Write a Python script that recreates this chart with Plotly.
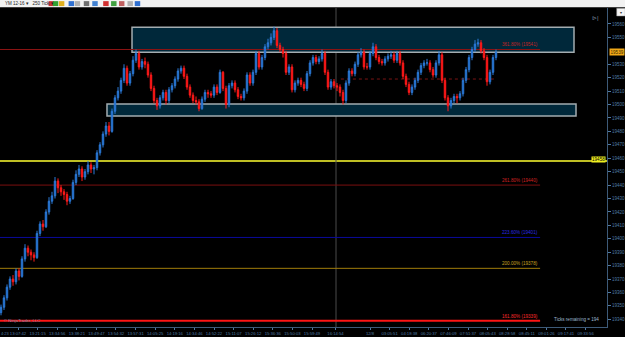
import plotly.graph_objects as go

# ---------------- data ----------------
opens = [19345,19349,19356,19364,19370,19368,19376,19372,19385,19393,
         19390,19388,19386,19404,19411,19409,19420,19428,19432,19443,
         19438,19435,19433,19428,19430,19442,19448,19452,19446,19450,
         19455,19452,19453,19464,19470,19478,19484,19480,19495,19505,
         19510,19518,19527,19516,19523,19533,19538,19528,19532,19530,
         19522,19512,19503,19499,19505,19509,19503,19511,19514,19519,
         19525,19527,19521,19513,19507,19503,19502,19497,19504,19509,
         19508,19507,19513,19509,19524,19512,19500,19514,19516,19511,
         19506,19505,19510,19522,19516,19524,19538,19528,19535,19543,
         19546,19550,19555,19544,19541,19538,19524,19528,19511,19516,
         19518,19515,19512,19523,19531,19535,19532,19534,19538,19524,
         19513,19517,19514,19513,19509,19503,19516,19525,19523,19530,
         19537,19539,19528,19528,19538,19543,19535,19532,19531,19534,
         19536,19537,19533,19538,19531,19521,19515,19509,19513,19518,
         19524,19529,19531,19531,19526,19522,19531,19537,19518,19505,
         19499,19503,19506,19505,19508,19518,19526,19535,19541,19545,
         19546,19540,19535,19517,19524,19535]
closes = [19349,19356,19364,19370,19368,19376,19372,19385,19393,19390,
          19388,19386,19404,19411,19409,19420,19428,19432,19443,19438,
          19435,19433,19428,19430,19442,19448,19452,19446,19450,19455,
          19452,19453,19464,19470,19478,19484,19480,19495,19505,19510,
          19518,19527,19516,19523,19533,19538,19528,19532,19530,19522,
          19512,19503,19499,19505,19509,19503,19511,19514,19519,19525,
          19527,19521,19513,19507,19503,19502,19497,19504,19509,19508,
          19507,19513,19509,19524,19512,19500,19514,19516,19511,19506,
          19505,19510,19522,19516,19524,19538,19528,19535,19543,19546,
          19550,19555,19544,19541,19538,19524,19528,19511,19516,19518,
          19515,19512,19523,19531,19535,19532,19534,19538,19524,19513,
          19517,19514,19513,19509,19503,19516,19525,19523,19530,19537,
          19539,19528,19528,19538,19543,19535,19532,19531,19534,19536,
          19537,19533,19538,19531,19521,19515,19509,19513,19518,19524,
          19529,19531,19531,19526,19522,19531,19537,19518,19505,19499,
          19503,19506,19505,19508,19518,19526,19535,19541,19545,19546,
          19540,19535,19517,19524,19535,19539]
highs = [19351,19358,19366,19372,19373,19378,19378,19387,19396,19395,
         19392,19390,19406,19413,19414,19422,19431,19435,19446,19445,
         19440,19437,19435,19432,19444,19451,19455,19454,19452,19458,
         19457,19455,19466,19472,19480,19487,19487,19497,19507,19513,
         19520,19530,19529,19525,19536,19541,19540,19534,19535,19532,
         19524,19514,19505,19507,19511,19511,19513,19516,19521,19527,
         19529,19529,19523,19515,19509,19506,19504,19506,19511,19511,
         19510,19515,19515,19526,19525,19514,19516,19518,19518,19513,
         19508,19512,19524,19524,19526,19540,19540,19537,19545,19549,
         19553,19558,19557,19546,19543,19540,19530,19530,19518,19520,
         19520,19517,19525,19533,19537,19537,19536,19541,19540,19526,
         19519,19519,19516,19515,19511,19518,19527,19527,19532,19539,
         19542,19541,19531,19540,19546,19545,19537,19534,19536,19538,
         19540,19539,19540,19540,19533,19523,19517,19515,19520,19526,
         19531,19533,19534,19533,19528,19533,19540,19539,19520,19507,
         19505,19508,19508,19510,19520,19528,19537,19543,19548,19549,
         19548,19542,19537,19526,19537,19541]
lows = [19343,19347,19354,19362,19365,19366,19369,19371,19383,19387,
        19384,19383,19385,19402,19406,19408,19418,19426,19430,19434,
        19432,19429,19425,19426,19429,19440,19446,19443,19444,19448,
        19449,19448,19451,19462,19468,19476,19477,19479,19493,19503,
        19508,19516,19514,19514,19521,19531,19526,19526,19527,19520,
        19510,19501,19496,19497,19503,19500,19501,19509,19512,19517,
        19523,19519,19511,19505,19501,19500,19495,19496,19502,19505,
        19505,19505,19507,19508,19510,19497,19498,19512,19509,19504,
        19503,19503,19508,19514,19514,19522,19526,19526,19533,19541,
        19544,19548,19542,19539,19535,19522,19522,19509,19509,19514,
        19513,19510,19510,19521,19529,19530,19530,19532,19522,19511,
        19511,19512,19510,19506,19500,19501,19514,19521,19521,19528,
        19535,19526,19526,19526,19536,19533,19530,19529,19529,19532,
        19534,19531,19531,19529,19519,19513,19507,19507,19511,19516,
        19522,19527,19529,19524,19520,19520,19529,19516,19503,19495,
        19497,19501,19501,19503,19506,19516,19524,19533,19539,19543,
        19538,19533,19514,19515,19522,19533]

tick_pos = [5.67,12.2,18.73,25.27,31.8,38.33,44.87,51.4,57.93,64.47,71,77.53,
            84.07,90.6,97.13,103.67,111.5,123,129.53,136.07,142.6,149.13,
            155.67,162.2,168.73,175.27,181.8,188.33,194.87]
tick_text = ["13:07:42","13:21:15","13:34:56","13:38:21","13:49:47","13:54:32",
             "13:57:31","14:05:25","14:19:16","14:34:46","14:52:22","15:11:07",
             "15:26:12","15:36:36","15:50:03","15:59:49","16:14:54","12/8",
             "03:05:51","04:18:38","06:20:37","07:46:09","07:51:37","08:05:43",
             "08:28:58","08:45:11","09:01:26","09:17:41","09:33:56"]

# price ticks (19540 sits under the last-price marker)
price_ticks = [19340,19350,19360,19370,19380,19390,19400,19410,19420,19430,19440,
               19450,19460,19470,19480,19490,19500,19510,19520,19530,19550,19560]

fib_labels = ["361.80% (19541)","261.80% (19440)","223.60% (19401)",
              "200.00% (19378)","161.80% (19339)"]
fib_values = [19541, 19440, 19401, 19378, 19339]
fib_colors = ["#8c1414","#7a0f0f","#0a0a9c","#a07c0a","#ff1414"]
fib_text_colors = ["#c42424","#d42020","#2a2ae0","#c8a020","#ff2a2a"]
fib_widths = [1, 1, 1, 1, 2]

upper_zone = (19539, 19557.5)
lower_zone = (19491.5, 19500.4)
yellow_level = 19458
dotted_level = 19519
last_price = 19539

x = list(range(len(closes)))

# ---------------- figure ----------------
fig = go.Figure(go.Candlestick(
    x=x, open=opens, high=highs, low=lows, close=closes,
    increasing=dict(line=dict(color="#2b7ad8", width=1), fillcolor="#1f66c4"),
    decreasing=dict(line=dict(color="#ff1a1a", width=1), fillcolor="#ff1010"),
    whiskerwidth=0, showlegend=False, hoverinfo="skip"))

axis_col = "#4f7aa3"
font_fam = "Liberation Sans, Arial, sans-serif"

shapes = []
for (lo, hi), (x0, x1) in [(upper_zone, (43.67, 191.0)), (lower_zone, (35.33, 191.67))]:
    shapes.append(dict(type="rect", xref="x", yref="y", x0=x0, x1=x1, y0=lo, y1=hi,
                       fillcolor="#00283a", line=dict(color="#a3acb0", width=1.5),
                       layer="below"))
for v, c, w in zip(fib_values, fib_colors, fib_widths):
    shapes.append(dict(type="line", xref="x", yref="y", x0=-1, x1=179.7, y0=v, y1=v,
                       line=dict(color=c, width=w), layer="below"))
shapes.append(dict(type="line", xref="paper", yref="y", x0=0, x1=1, y0=yellow_level,
                   y1=yellow_level, line=dict(color="#ffff30", width=1.5), layer="below"))
shapes.append(dict(type="line", xref="x", yref="y", x0=113.3, x1=164.7, y0=dotted_level,
                   y1=dotted_level, line=dict(color="#7a1414", width=1, dash="dot"),
                   layer="below"))
shapes.append(dict(type="line", xref="x", yref="paper", x0=111.67, x1=111.67, y0=0, y1=1,
                   line=dict(color="#4a4a4a", width=1), layer="below"))
# toolbar
shapes.append(dict(type="rect", xref="paper", yref="paper", x0=-0.01, x1=1.04,
                   y0=1.0022, y1=1.03, fillcolor="#f2f2f2", line=dict(width=0)))
icon_specs = [(0.080, "#c83030"), (0.087, "#30a030"), (0.097, "#e0b020"),
              (0.113, "#3070d0"), (0.123, "#b0b0b0"), (0.138, "#707070"),
              (0.152, "#4080d0"), (0.170, "#d03030"), (0.183, "#40a040"),
              (0.196, "#c06060"), (0.210, "#b0b0b0"), (0.222, "#3070d0")]
for px, col in icon_specs:
    shapes.append(dict(type="rect", xref="paper", yref="paper", x0=px, x1=px + 0.009,
                       y0=1.006, y1=1.0215, fillcolor=col, line=dict(width=0)))
shapes.append(dict(type="rect", xref="paper", yref="paper", x0=1.016, x1=1.03,
                   y0=0.975, y1=0.999, fillcolor="#f4f4f4", line=dict(color="#999", width=0.5)))

annotations = []
for lab, v, c in zip(fib_labels, fib_values, fib_text_colors):
    annotations.append(dict(x=179.7, y=v, xref="x", yref="y", text=lab, showarrow=False,
                            xanchor="right", yanchor="bottom",
                            font=dict(size=4.6, color=c, family=font_fam)))
annotations += [
    dict(x=0.998, y=yellow_level + 1, xref="paper", yref="y", text="19458", showarrow=False,
         xanchor="right", yanchor="middle", bgcolor="#f0f020", borderpad=0,
         font=dict(size=4.6, color="#000", family=font_fam)),
    dict(x=1.003, y=last_price, xref="paper", yref="y", text="19539", showarrow=False,
         xanchor="left", yanchor="middle", bgcolor="#f0a818", borderpad=0.5,
         font=dict(size=4.6, color="#3a2a00", family=font_fam)),
    dict(x=0.003, y=0.005, xref="paper", yref="paper", text="© NinjaTrader, LLC",
         showarrow=False, xanchor="left", yanchor="bottom",
         font=dict(size=4.3, color="#6f8fb0", family=font_fam)),
    dict(x=0.99, y=0.01, xref="paper", yref="paper", text="Ticks remaining = 194",
         showarrow=False, xanchor="right", yanchor="bottom",
         font=dict(size=4.6, color="#9fb8d0", family=font_fam)),
    dict(x=-0.002, y=-0.006, xref="paper", yref="paper", text="4:23", showarrow=False,
         xanchor="left", yanchor="top", font=dict(size=4.0, color=axis_col, family=font_fam)),
    dict(x=0.99, y=0.985, xref="paper", yref="paper", text="⊳|", showarrow=False,
         xanchor="right", yanchor="top", font=dict(size=6, color="#7d8fa3", family=font_fam)),
    dict(x=0.005, y=1.014, xref="paper", yref="paper", text="YM 12-16 ▾   250 Tick ▾",
         showarrow=False, xanchor="left", yanchor="middle",
         font=dict(size=4.5, color="#222", family=font_fam)),
    dict(x=1.023, y=0.987, xref="paper", yref="paper", text="▾", showarrow=False,
         xanchor="center", yanchor="middle", font=dict(size=4, color="#333", family=font_fam)),
]

fig.update_layout(
    width=625, height=337,
    margin=dict(l=0, r=18, t=8, b=10),
    paper_bgcolor="#000000", plot_bgcolor="#000000",
    shapes=shapes, annotations=annotations,
    font=dict(family=font_fam, size=4.6, color=axis_col),
    xaxis=dict(range=[-0.333, 202], rangeslider=dict(visible=False), showgrid=False,
               zeroline=False, tickmode="array", tickvals=tick_pos, ticktext=tick_text,
               tickangle=0, tickfont=dict(size=4.2, color=axis_col), ticks="outside",
               ticklen=2, tickcolor=axis_col, showline=True, linecolor="#3d5a78",
               linewidth=1),
    yaxis=dict(side="right", range=[19334.3, 19571.9], tickmode="array",
               tickvals=price_ticks, ticktext=[str(v) for v in price_ticks],
               showgrid=False, zeroline=False, tickfont=dict(size=4.5, color=axis_col),
               ticks="outside", ticklen=3, tickcolor=axis_col, showline=True,
               linecolor="#3d5a78", linewidth=1, fixedrange=True),
)

fig.write_html("out.html")
